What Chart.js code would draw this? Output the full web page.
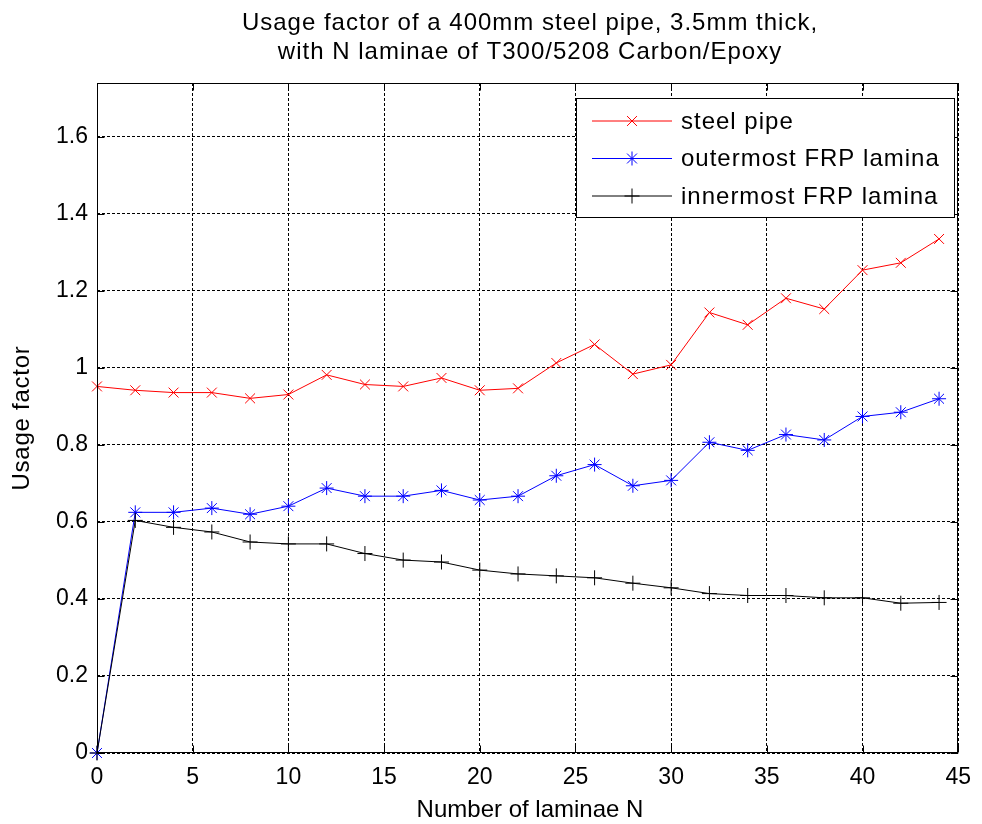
<!DOCTYPE html>
<html>
<head>
<meta charset="utf-8">
<title>Usage factor</title>
<script src="https://cdn.jsdelivr.net/npm/chart.js@4.4.0/dist/chart.umd.min.js"></script>
<style>
  html, body { margin: 0; padding: 0; background: #fff; }
  #wrap { width: 982px; height: 824px; }
</style>
</head>
<body>
<div id="wrap"><canvas id="grafico" width="982" height="824"></canvas></div>
<script>
// dados
const laminas = [0, 2, 4, 6, 8, 10, 12, 14, 16, 18, 20, 22, 24, 26, 28, 30, 32, 34, 36, 38, 40, 42, 44];
const tuboAco = [0.952, 0.942, 0.936, 0.936, 0.921, 0.931, 0.982, 0.957, 0.952, 0.974, 0.942, 0.947,
                 1.013, 1.061, 0.984, 1.008, 1.144, 1.112, 1.181, 1.153, 1.254, 1.273, 1.335];
const laminaExterna = [0, 0.625, 0.625, 0.636, 0.620, 0.641, 0.688, 0.667, 0.667, 0.682, 0.657, 0.667,
                       0.720, 0.749, 0.694, 0.708, 0.807, 0.786, 0.827, 0.813, 0.874, 0.885, 0.920];
const laminaInterna = [0, 0.604, 0.586, 0.574, 0.548, 0.543, 0.543, 0.518, 0.501, 0.496, 0.475, 0.465,
                       0.460, 0.455, 0.441, 0.429, 0.414, 0.409, 0.409, 0.403, 0.403, 0.389, 0.391];
const ticksX = [0, 5, 10, 15, 20, 25, 30, 35, 40, 45];
const ticksY = [0, 0.2, 0.4, 0.6, 0.8, 1, 1.2, 1.4, 1.6];
const nomes = ['steel pipe', 'outermost FRP lamina', 'innermost FRP lamina'];

const fonte = 'Liberation Sans, Arial, sans-serif';

function pontos(ys) {
    return laminas.map((n, i) => ({ x: n, y: ys[i] }));
}

// moldura, marcas internas, títulos e legenda no estilo MATLAB
const estiloMatlab = {
    id: 'estiloMatlab',
    afterDatasetsDraw(chart) {
        const ctx = chart.ctx;
        const a = chart.chartArea;
        const sx = chart.scales.x, sy = chart.scales.y;
        ctx.save();
        ctx.strokeStyle = '#000';
        ctx.lineWidth = 1;
        ctx.setLineDash([]);
        const L = Math.round(a.left) + 0.5, R = Math.round(a.right) - 0.5;
        const T = Math.round(a.top) + 0.5, B = Math.round(a.bottom) - 0.5;
        ctx.strokeRect(L, T, R - L, B - T);
        ctx.beginPath();
        ticksX.forEach(v => {
            const px = Math.round(sx.getPixelForValue(v)) + 0.5;
            ctx.moveTo(px, B); ctx.lineTo(px, B - 7);
            ctx.moveTo(px, T); ctx.lineTo(px, T + 7);
        });
        ticksY.forEach(v => {
            const py = Math.round(sy.getPixelForValue(v)) + 0.5;
            ctx.moveTo(L, py); ctx.lineTo(L + 7, py);
            ctx.moveTo(R, py); ctx.lineTo(R - 7, py);
        });
        ctx.stroke();

        // legenda
        const lx = 576.5, ly = 98.5, lw = 378, lh = 119;
        ctx.fillStyle = '#fff';
        ctx.fillRect(lx, ly, lw, lh);
        ctx.strokeRect(lx, ly, lw, lh);
        ctx.font = '24px ' + fonte;
        ctx.letterSpacing = '1px';
        ctx.textBaseline = 'middle';
        ctx.textAlign = 'left';
        chart.data.datasets.forEach((ds, i) => {
            const y = 121 + i * 37.5;
            ctx.strokeStyle = ds.borderColor;
            ctx.lineWidth = 1;
            ctx.beginPath();
            ctx.moveTo(592, y); ctx.lineTo(672, y);
            ctx.stroke();
            Chart.helpers.drawPoint(ctx, {
                pointStyle: ds.pointStyle, radius: ds.pointRadius,
                borderWidth: 1, rotation: 0
            }, 632, y);
            ctx.fillStyle = '#000';
            ctx.fillText(nomes[i], 681, y + 1);
        });

        // títulos
        ctx.fillStyle = '#000';
        ctx.textAlign = 'center';
        ctx.font = '24px ' + fonte;
        ctx.letterSpacing = '1px';
        ctx.fillText('Usage factor of a 400mm steel pipe, 3.5mm thick,', 530, 23);
        ctx.fillText('with N laminae of T300/5208 Carbon/Epoxy', 530, 52);
        ctx.letterSpacing = '0px';
        ctx.fillText('Number of laminae N', 530, 810);
        ctx.letterSpacing = '0.75px';
        ctx.translate(22, 418);
        ctx.rotate(-Math.PI / 2);
        ctx.fillText('Usage factor', 0, 0);
        ctx.restore();
    }
};

document.addEventListener('DOMContentLoaded', () => {
    const el = document.getElementById('grafico');
    new Chart(el, {
        type: 'line',
        data: {
            datasets: [
                {
                    label: nomes[0], data: pontos(tuboAco),
                    borderColor: '#ff0000', backgroundColor: '#ff0000',
                    borderWidth: 1, pointStyle: 'crossRot', pointRadius: 7,
                    pointBorderWidth: 1, tension: 0, clip: false, order: 3
                },
                {
                    label: nomes[1], data: pontos(laminaExterna),
                    borderColor: '#0000ff', backgroundColor: '#0000ff',
                    borderWidth: 1, pointStyle: 'star', pointRadius: 7,
                    pointBorderWidth: 1, tension: 0, clip: false, order: 2
                },
                {
                    label: nomes[2], data: pontos(laminaInterna),
                    borderColor: '#000000', backgroundColor: '#000000',
                    borderWidth: 1, pointStyle: 'cross', pointRadius: 7.5,
                    pointBorderWidth: 1, tension: 0, clip: false, order: 1
                }
            ]
        },
        options: {
            responsive: false,
            animation: false,
            events: [],
            layout: { padding: { top: 83, right: 19, bottom: 0, left: 0 } },
            plugins: {
                legend: { display: false },
                title: { display: false },
                tooltip: { enabled: false }
            },
            scales: {
                x: {
                    type: 'linear', min: 0, max: 45,
                    afterFit: s => { s.height = 71; },
                    afterBuildTicks: s => { s.ticks = ticksX.map(v => ({ value: v })); },
                    grid: { color: '#000', lineWidth: 1, drawTicks: false },
                    border: { display: false, dash: [3, 2] },
                    ticks: {
                        padding: 11, color: '#000',
                        font: { family: fonte, size: 23 },
                        callback: v => String(v)
                    }
                },
                y: {
                    type: 'linear', min: 0, max: 1.74,
                    afterFit: s => { s.width = 97; },
                    afterBuildTicks: s => { s.ticks = ticksY.map(v => ({ value: v })); },
                    grid: { color: '#000', lineWidth: 1, drawTicks: false },
                    border: { display: false, dash: [3, 2] },
                    ticks: {
                        padding: 9, color: '#000',
                        font: { family: fonte, size: 23 },
                        callback: v => String(Math.round(v * 10) / 10)
                    }
                }
            }
        },
        plugins: [estiloMatlab]
    });
});
</script>
</body>
</html>
